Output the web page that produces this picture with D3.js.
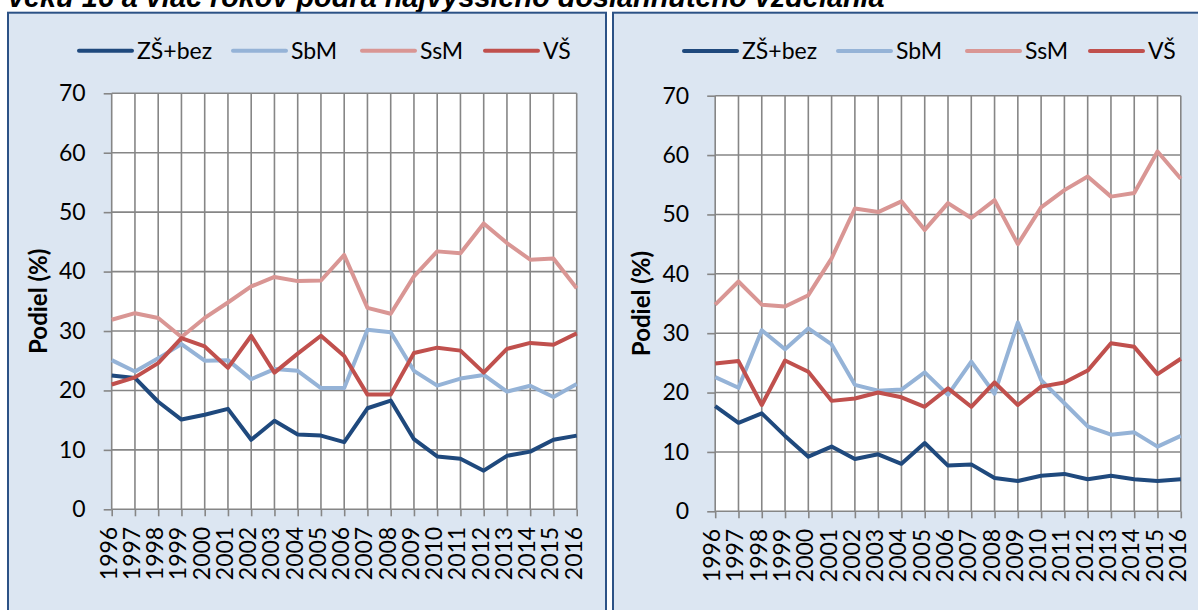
<!DOCTYPE html>
<html>
<head>
<meta charset="utf-8">
<style>
	body { margin: 0; background: #fff; }
	svg { display: block; }
	.tick text { font-family: Lato, sans-serif; font-size: 23px; fill: #000; }
</style>
</head>
<body>
<div id="chart"></div>
<script src="https://cdnjs.cloudflare.com/ajax/libs/d3/7.8.5/d3.min.js"></script>
<script>

// data
var years = ["1996","1997","1998","1999","2000","2001","2002","2003","2004","2005","2006",
	"2007","2008","2009","2010","2011","2012","2013","2014","2015","2016"];
var seriesNames = ["ZŠ+bez", "SbM", "SsM", "VŠ"];
var yTicks = [0, 10, 20, 30, 40, 50, 60, 70];

var leftZS  = [22.5,22.1,18.1,15.1,15.9,16.9,11.7,14.9,12.6,12.4,11.3,17.0,18.3,11.8,8.9,8.5,6.5,9.0,9.7,11.7,12.4];
var leftSbM = [25.1,23.2,25.4,27.8,25.0,25.1,21.9,23.6,23.3,20.4,20.4,30.2,29.8,23.3,20.8,22.0,22.6,19.8,20.8,18.9,21.1];
var leftSsM = [31.9,33.0,32.2,29.0,32.2,34.8,37.5,39.1,38.4,38.5,42.8,33.9,32.9,39.2,43.4,43.1,48.1,44.8,42.0,42.2,37.2];
var leftVS  = [21.0,22.2,24.6,28.8,27.4,23.8,29.2,23.0,26.2,29.2,25.8,19.3,19.3,26.3,27.2,26.7,23.0,27.0,28.0,27.7,29.6];

var rightZS  = [17.7,14.9,16.5,12.7,9.2,10.9,8.8,9.6,8.0,11.5,7.7,7.9,5.6,5.1,6.0,6.3,5.4,6.0,5.4,5.1,5.4];
var rightSbM = [22.6,20.8,30.5,27.3,30.8,28.1,21.3,20.3,20.5,23.4,19.6,25.2,19.8,31.8,22.1,18.2,14.3,12.9,13.3,10.9,12.7];
var rightSsM = [34.8,38.7,34.8,34.5,36.4,42.6,51.0,50.4,52.2,47.4,51.9,49.4,52.4,45.0,51.2,54.1,56.4,53.0,53.6,60.6,56.0];
var rightVS  = [24.9,25.3,17.9,25.4,23.5,18.6,19.0,20.0,19.2,17.6,20.7,17.6,21.7,17.9,21.0,21.7,23.7,28.3,27.7,23.1,25.7];

var colors = ["#1f497d", "#95b3d7", "#d99694", "#c0504d"];
var titleText = "veku 16 a viac rokov podľa najvyššieho dosiahnutého vzdelania";

var W = 1198, H = 610;
var svg = d3.select("#chart").append("svg").attr("width", W).attr("height", H);

// title, cut off at the top like in the source
var title = svg.append("text")
	.attr("x", 8).attr("y", 7)
	.style("font-family", "'Liberation Sans', Arial, sans-serif")
	.style("font-weight", "bold").style("font-style", "italic")
	.style("font-size", "22px")
	.text(titleText);
var tw = title.node().getComputedTextLength();
title.style("font-size", (22 * 877 / tw) + "px");

function drawPanel(px, py, box, data) {
	svg.append("rect")
		.attr("x", px).attr("y", py).attr("width", 598).attr("height", 640)
		.attr("fill", "#dce6f2").attr("stroke", "#2c5286").attr("stroke-width", 2);

	var x = d3.scalePoint().domain(years).range([box.x0, box.x1]);
	var y = d3.scaleLinear().domain([0, 70]).range([box.y1, box.y0]);

	var g = svg.append("g");
	g.append("rect")
		.attr("x", box.x0).attr("y", box.y0)
		.attr("width", box.x1 - box.x0).attr("height", box.y1 - box.y0)
		.attr("fill", "#fff");

	// grid
	g.selectAll(".vg").data(years).enter().append("line")
		.attr("x1", d => x(d)).attr("x2", d => x(d))
		.attr("y1", box.y0).attr("y2", box.y1)
		.attr("stroke", "#868686").attr("stroke-width", 1.6);
	g.selectAll(".hg").data(yTicks).enter().append("line")
		.attr("x1", box.x0).attr("x2", box.x1)
		.attr("y1", d => y(d)).attr("y2", d => y(d))
		.attr("stroke", "#868686").attr("stroke-width", 1.6);

	// axes
	var ya = g.append("g").attr("transform", "translate(" + box.x0 + ",0)")
		.call(d3.axisLeft(y).tickValues(yTicks).tickSize(8).tickPadding(18));
	ya.select(".domain").remove();
	ya.selectAll(".tick line").attr("stroke", "#868686").attr("stroke-width", 1.6);

	var xa = g.append("g").attr("transform", "translate(0," + box.y1 + ")")
		.call(d3.axisBottom(x).tickSize(7));
	xa.select(".domain").remove();
	xa.selectAll(".tick line").attr("stroke", "#868686").attr("stroke-width", 1.6);
	xa.selectAll(".tick text")
		.attr("transform", "rotate(-90)")
		.attr("x", -17.5).attr("y", 4.5).attr("dy", 0)
		.style("text-anchor", "end");

	// axis title
	svg.append("text")
		.attr("transform", "translate(" + (box.x0 - 65) + "," + ((box.y0 + box.y1) / 2) + ") rotate(-90)")
		.style("text-anchor", "middle")
		.style("font-family", "Lato, sans-serif").style("font-weight", "bold")
		.style("font-size", "24px")
		.text("Podiel (%)");

	// lines
	var line = d3.line().x((d, i) => x(years[i])).y(d => y(d));
	data.forEach(function(s, k) {
		g.append("path").datum(s)
			.attr("d", line)
			.attr("fill", "none")
			.attr("stroke", colors[k])
			.attr("stroke-width", 4)
			.attr("stroke-linejoin", "round");
	});

	// legend
	var legOff = [71, 225, 354, 477];
	var lg = svg.append("g").attr("transform", "translate(" + px + "," + box.ly + ")");
	seriesNames.forEach(function(n, k) {
		lg.append("line")
			.attr("x1", legOff[k]).attr("x2", legOff[k] + 53)
			.attr("y1", 0).attr("y2", 0)
			.attr("stroke", colors[k]).attr("stroke-width", 4)
			.attr("stroke-linecap", "round");
		lg.append("text")
			.attr("x", legOff[k] + 58).attr("y", 8)
			.style("font-family", "Lato, sans-serif").style("font-size", "23px")
			.text(n);
	});
}

drawPanel(8, 12.7, {x0: 111.7, x1: 576.7, y0: 93.3, y1: 509.3, ly: 50.7},
	[leftZS, leftSbM, leftSsM, leftVS]);
drawPanel(613, 12.7, {x0: 715.2, x1: 1180.8, y0: 95.7, y1: 511.3, ly: 51},
	[rightZS, rightSbM, rightSsM, rightVS]);

</script>
</body>
</html>
